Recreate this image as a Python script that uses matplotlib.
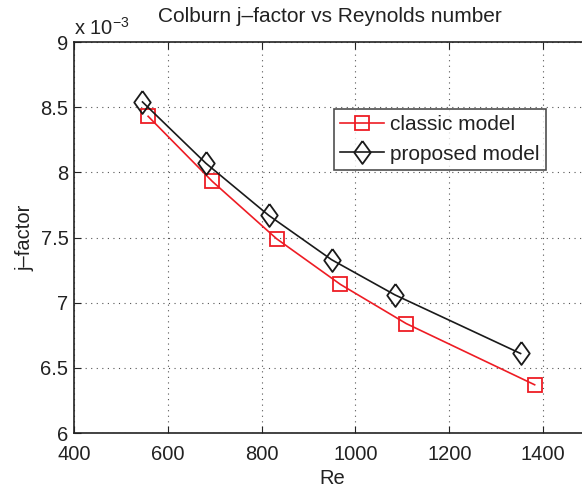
import matplotlib
matplotlib.use("Agg")
import matplotlib.pyplot as plt
import numpy as np

plt.rcParams['font.family'] = ['Liberation Sans', 'DejaVu Sans']

re_classic = [558, 695, 832, 968, 1108, 1382]
j_classic = [8.43e-3, 7.93e-3, 7.49e-3, 7.14e-3, 6.84e-3, 6.37e-3]
re_proposed = [546, 681, 815, 949, 1084, 1352]
j_proposed = [8.54e-3, 8.07e-3, 7.67e-3, 7.33e-3, 7.06e-3, 6.61e-3]
xticks = [400, 600, 800, 1000, 1200, 1400]
yticks = [6, 6.5, 7, 7.5, 8, 8.5, 9]

W, H = 582, 487
fig = plt.figure(figsize=(W/100, H/100), dpi=100)
left, right, top, bottom = 74, 590, 42, 433
ax = fig.add_axes([left/W, 1-bottom/H, (right-left)/W, (bottom-top)/H])

diamond = [(0, 1), (0.72, 0), (0, -1), (-0.72, 0), (0, 1)]
ax.plot(re_classic, np.array(j_classic)*1e3, color='#ee1c24', lw=1.2, marker='s',
        ms=10.5, mfc='none', mec='#ee1c24', mew=1.3, label='classic model')
ax.plot(re_proposed, np.array(j_proposed)*1e3, color='#1a1a1a', lw=1.2, marker=diamond,
        ms=16.5, mfc='none', mec='#1a1a1a', mew=1.3, label='proposed model')

ax.set_xlim(400, 1500)
ax.set_ylim(6, 9)
ax.set_xticks(xticks)
ax.set_yticks(yticks)
ax.set_yticklabels(['6', '6.5', '7', '7.5', '8', '8.5', '9'])
ax.tick_params(direction='in', top=True, right=True, labelsize=14.5, length=5,
               colors='#222222')
ax.tick_params(axis='x', pad=9)
ax.tick_params(axis='y', pad=4)
ax.grid(True, linestyle=(0, (1, 4)), color='#555555', lw=0.8)
for s in ax.spines.values():
    s.set_linewidth(1.2)
    s.set_color('#222222')

ax.set_xlabel('Re', fontsize=14.5, color='#222222', labelpad=3)
ax.set_ylabel('j\u2013factor', fontsize=14.5, color='#222222', labelpad=4)
fig.text(330/W, 1-17/H, 'Colburn j\u2013factor vs Reynolds number', fontsize=15,
         ha='center', va='center', color='#222222')
fig.text(74/W, 1-28/H, r'x 10$^{\mathregular{-3}}$', fontsize=14.5, ha='left',
         va='center', color='#222222')

leg = ax.legend(loc='upper left', bbox_to_anchor=(334/W, 1-109/H),
                bbox_transform=fig.transFigure, fontsize=15, frameon=True,
                fancybox=False, edgecolor='#222222', handlelength=2.1,
                borderpad=0.3, labelspacing=0.5, handletextpad=0.3,
                borderaxespad=0)
leg.get_frame().set_linewidth(1.2)
for t in leg.get_texts():
    t.set_color('#222222')

fig.savefig('out.png', dpi=100)
